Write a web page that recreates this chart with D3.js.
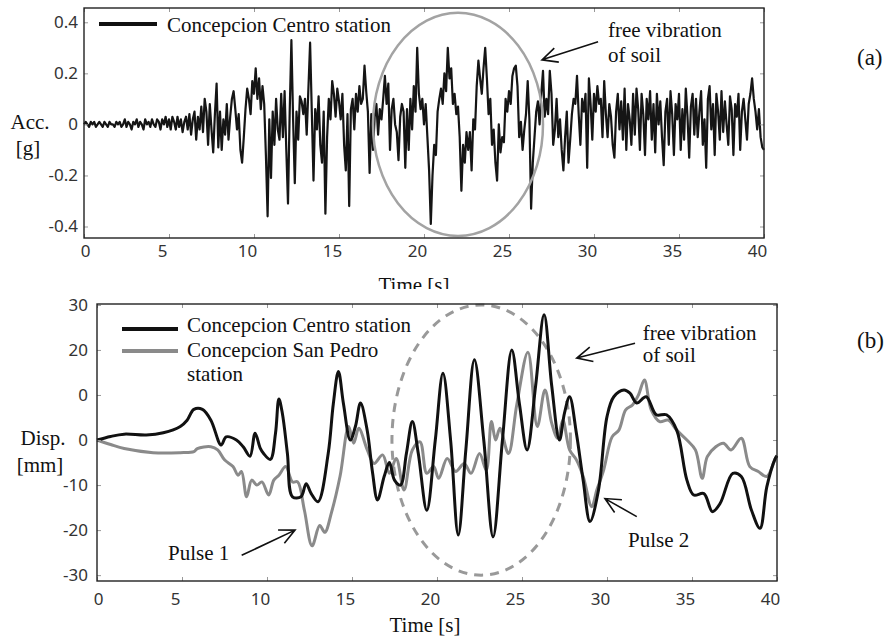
<!DOCTYPE html>
<html>
<head>
<meta charset="utf-8">
<script src="https://cdn.jsdelivr.net/npm/d3@7"></script>
<style>
body { margin: 0; background: #fff; }
svg { display: block; }
</style>
</head>
<body>
<svg width="888" height="639"></svg>
<script>
// (a) ground acceleration [g], one reading every 0.1 s from 0 to 40 s
var accStep = 0.1;
var acc = [
 0.00,0.01,0.00,-0.01,0.01,0.00,0.01,-0.01,0.00,0.01,
 0.00,-0.01,0.01,0.00,-0.01,0.01,0.00,0.00,-0.01,0.01,
 0.00,0.01,-0.01,0.00,0.02,-0.01,0.01,0.00,-0.02,0.01,
 0.00,0.02,-0.01,0.01,0.00,-0.02,0.02,0.00,0.01,-0.01,
 0.02,0.00,-0.01,0.02,0.01,-0.02,0.02,0.00,0.03,-0.01,
 0.02,-0.02,0.03,0.01,-0.02,0.03,-0.01,0.02,-0.03,0.01,
 0.03,-0.02,0.04,-0.04,0.02,0.05,-0.06,0.03,-0.02,0.07,
 -0.03,0.10,0.05,-0.08,0.08,-0.02,-0.11,0.04,0.16,-0.09,
 0.05,-0.10,0.02,-0.04,0.08,-0.06,0.03,0.10,0.13,0.06,
 -0.02,0.04,-0.10,-0.15,-0.05,0.06,0.14,0.10,0.04,0.17,
 0.12,0.22,0.10,0.18,0.06,0.15,0.08,-0.12,-0.36,0.02,
 -0.21,0.05,-0.08,0.10,-0.02,-0.06,0.12,-0.05,0.13,-0.10,
 -0.31,0.05,0.33,0.02,-0.23,0.05,-0.06,0.11,0.09,0.04,
 0.10,-0.04,0.14,0.32,0.05,-0.22,0.06,-0.02,0.11,-0.08,
 -0.15,0.05,-0.35,-0.05,0.10,0.02,0.17,0.12,0.03,0.14,
 0.09,0.02,0.12,-0.08,-0.18,0.04,-0.32,0.06,0.10,-0.02,
 0.12,0.05,0.15,0.08,0.10,0.23,0.13,0.05,-0.19,0.04,
 -0.10,0.03,0.08,-0.04,0.06,0.02,0.10,0.19,0.08,0.16,
 -0.10,0.06,0.10,0.00,-0.03,-0.14,0.03,0.08,0.05,-0.17,
 0.06,-0.10,0.10,-0.02,0.15,0.05,0.30,0.12,0.06,0.10,
 0.00,0.08,-0.05,-0.18,-0.39,-0.20,-0.08,-0.12,0.05,0.10,
 0.14,0.08,0.20,0.13,0.30,0.18,0.22,0.08,0.12,0.04,
 0.07,-0.05,-0.26,-0.08,-0.15,-0.03,-0.10,-0.03,-0.18,0.02,
 -0.02,0.15,0.25,0.18,0.12,0.22,0.30,0.18,0.04,0.10,
 -0.08,-0.02,-0.15,-0.22,0.00,-0.11,-0.05,-0.07,0.10,0.05,
 0.13,0.08,0.19,0.22,0.23,0.15,-0.05,0.01,-0.10,-0.02,
 0.04,0.17,0.02,-0.33,-0.15,-0.05,0.05,0.09,0.00,0.12,
 0.21,0.03,0.10,0.04,0.21,0.12,-0.08,-0.02,0.10,-0.05,
 0.02,-0.10,-0.18,-0.05,0.05,-0.15,-0.06,0.04,0.10,0.08,
 0.19,0.04,-0.08,0.10,0.05,0.12,-0.17,0.18,0.08,-0.06,
 0.12,0.05,0.15,0.08,0.10,-0.05,0.17,0.04,-0.05,0.08,
 0.03,-0.08,-0.13,0.05,0.12,-0.02,0.09,-0.06,0.14,-0.10,
 0.08,0.02,-0.08,0.12,-0.04,0.14,0.06,-0.10,0.12,0.04,
 -0.12,0.10,0.02,0.13,-0.06,0.08,-0.11,0.12,0.00,0.09,
 -0.05,-0.16,0.05,0.10,-0.08,0.13,0.04,-0.12,0.08,0.02,
 0.12,-0.10,0.06,-0.06,0.14,0.03,-0.13,0.07,0.12,-0.04,
 0.10,-0.05,0.05,0.13,-0.08,0.02,-0.17,0.10,0.15,-0.02,
 0.08,-0.12,0.12,0.05,-0.06,0.13,-0.03,0.09,0.00,-0.08,
 0.11,0.06,-0.12,0.08,0.03,0.12,-0.10,0.05,0.10,0.02,
 -0.06,0.08,0.12,0.18,0.10,0.05,-0.02,0.06,-0.05,-0.09,
 -0.10
];

// (b) displacement [mm], read at the turning points of each trace
var centroTime = [0,0.8,1.6,2.9,3.9,4.9,5.3,5.7,6.2,6.7,7.3,7.6,8.2,8.6,9.0,9.3,9.6,9.8,10.2,10.5,10.7,10.9,11.2,11.5,12.0,12.3,12.6,13.0,13.6,13.9,14.2,14.5,14.9,15.2,15.5,15.9,16.2,16.5,16.9,17.2,17.5,17.85,18.2,18.55,18.9,19.4,19.9,20.35,20.8,21.25,21.7,22.2,22.75,23.3,23.85,24.4,24.85,25.3,25.8,26.3,26.75,27.2,27.5,27.8,28.2,28.6,29.0,29.5,30.0,30.4,31.0,31.35,31.75,32.3,32.9,33.5,34.1,34.7,35.1,35.7,36.2,36.65,37.4,37.9,38.5,39.0,39.4,39.9,40];
var centroDisp = [0,0.8,1.3,1.1,1.6,3.0,4.4,6.8,6.8,4.4,-1.1,0.7,0.0,-1.5,-3.6,1.5,-1.8,-3.0,-4.3,1.5,9.1,6.0,-3.0,-12.6,-12.6,-9.7,-11.9,-13.7,-3,8,15.2,8,0,3,8.2,2,-7,-13.3,-8,-5,-8.9,-10,-3,4.1,-3,-15.6,0,14.8,0,-21.1,-2,17.8,0,-21.5,0,20,8,-2.2,12,27.8,12,0,6,9.6,1.5,-9,-18.1,-11.1,5.2,9.6,11.1,10.4,8.2,9.6,5.6,5.6,2.2,-8.9,-12.2,-11.9,-15.9,-14.1,-7.4,-8.1,-15.6,-19.6,-10.4,-4.1,-3.5];
var sanPedroTime = [0,0.8,1.6,3.3,4.9,5.7,5.9,6.7,7.1,7.5,8.0,8.3,8.5,8.8,9.1,9.4,9.7,10.1,10.4,10.7,11.1,11.5,11.8,12.2,12.65,13.1,13.4,13.8,14.3,14.8,15.1,15.4,15.9,16.3,16.8,17.2,17.6,18.06,18.55,19.0,19.4,19.8,20.1,20.6,21.1,21.6,22.0,22.5,22.9,23.2,23.45,23.7,24.2,24.7,25.35,25.9,26.35,26.75,27.1,27.4,27.8,28.2,28.6,29.1,29.4,29.8,30.3,30.7,31.1,31.5,31.85,32.2,32.6,33.1,33.6,34.1,34.7,35.2,35.6,35.9,36.4,36.85,37.3,37.9,38.4,38.9,39.4,39.9,40];
var sanPedroDisp = [0,-1.0,-1.9,-2.8,-2.8,-2.6,-1.9,-1.5,-2.2,-4.4,-5.9,-7.8,-7.0,-12.6,-8.9,-10,-9.3,-12.2,-8.9,-7.8,-5.9,-9.3,-9.3,-15.6,-23.5,-19,-20.5,-16,-8,3,-0.7,2.6,-2.2,-5.2,-3.3,-7.4,-4.1,-11.1,-2.2,-0.4,-7.4,-5.9,-8.5,-4.1,-7,-5.2,-7.4,-3,-6.7,4.1,0,2.6,-3,8,19.5,3,11.1,3.7,0.4,4.4,-2.2,-4.4,-8.1,-14.8,-11.1,-6.7,0.7,2.2,6.7,7.8,10,13.3,6.7,4.1,4.4,2.2,0,-2.2,-8.5,-3.7,-1.5,-0.7,-2.2,0.4,-5.9,-7,-8.1,-4.1,-3.5];

var timeTicks = [0,5,10,15,20,25,30,35,40];
var accTicks = [-0.4,-0.2,0,0.2,0.4];
var accTickLabels = ["-0.4","-0.2","0","0.2","0.4"];
var dispTicks = [30,20,10,0,-10,-20,-30];
var dispTickLabels = ["30","20","0","0","-10","-20","-30"];

var svg = d3.select("svg");
var serif = "'Liberation Serif','Times New Roman',serif";
var sans = "'Noto Sans',sans-serif";

function frame(g, x, y, yTicks, yLabels, xPad, yPad) {
  var x0 = x.range()[0], x1 = x.range()[1], y0 = y.range()[0], y1 = y.range()[1];
  g.append("g").attr("transform", "translate(0," + y0 + ")")
    .call(d3.axisBottom(x).tickValues(timeTicks).tickSize(-4).tickPadding(xPad))
    .call(function(a) {
      a.select(".domain").remove();
      a.selectAll("line").attr("stroke", "#999");
      a.selectAll("text").attr("dx", function(d) { return d === 0 ? 1 : -7; });
    });
  g.append("g").attr("transform", "translate(0," + y1 + ")")
    .call(d3.axisTop(x).tickValues(timeTicks).tickSize(-4).tickFormat(""))
    .call(function(a) { a.select(".domain").remove(); a.selectAll("line").attr("stroke", "#999"); });
  g.append("g").attr("transform", "translate(" + x0 + ",0)")
    .call(d3.axisLeft(y).tickValues(yTicks).tickSize(-4).tickPadding(yPad)
      .tickFormat(function(d, i) { return yLabels[i]; }))
    .call(function(a) { a.select(".domain").remove(); a.selectAll("line").attr("stroke", "#999"); });
  g.append("g").attr("transform", "translate(" + x1 + ",0)")
    .call(d3.axisRight(y).tickValues(yTicks).tickSize(-4).tickFormat(""))
    .call(function(a) { a.select(".domain").remove(); a.selectAll("line").attr("stroke", "#999"); });
  g.selectAll(".tick text").attr("font-family", sans).attr("font-size", 17).attr("fill", "#333");
  g.append("rect").attr("x", x0).attr("y", y1).attr("width", x1 - x0).attr("height", y0 - y1)
    .attr("fill", "none").attr("stroke", "#222").attr("stroke-width", 1.4);
}

function arrow(g, xa, ya, xb, yb) {
  var ang = Math.atan2(ya - yb, xa - xb), len = 17, spread = 0.45;
  g.append("path")
    .attr("d", "M" + xa + "," + ya + "L" + xb + "," + yb +
      "M" + (xb + len * Math.cos(ang + spread)) + "," + (yb + len * Math.sin(ang + spread)) +
      "L" + xb + "," + yb +
      "L" + (xb + len * Math.cos(ang - spread)) + "," + (yb + len * Math.sin(ang - spread)))
    .attr("fill", "none").attr("stroke", "#111").attr("stroke-width", 1.6);
}

function label(g, x, y, txt, size, anchor) {
  g.append("text").attr("x", x).attr("y", y).text(txt)
    .attr("font-family", serif).attr("font-size", size || 21)
    .attr("text-anchor", anchor || "start").attr("fill", "#111");
}

// ---------- panel (a)
var ga = svg.append("g");
var xa = d3.scaleLinear().domain([0, 40]).range([84, 764]);
var ya = d3.scaleLinear().domain([-0.445, 0.456]).range([238, 8]);

label(ga, 414, 292, "Time [s]", 21, "middle");

ga.append("path")
  .datum(acc)
  .attr("fill", "none").attr("stroke", "#151515").attr("stroke-width", 2.2)
  .attr("stroke-linejoin", "round")
  .attr("d", d3.line().x(function(d, i) { return xa(i * accStep); }).y(function(d) { return ya(d); }));

ga.append("ellipse")
  .attr("cx", xa(22.0)).attr("cy", ya(0))
  .attr("rx", xa(5) - xa(0)).attr("ry", ya(0) - ya(0.437))
  .attr("fill", "none").attr("stroke", "#a3a3a3").attr("stroke-width", 2.5);

frame(ga, xa, ya, accTicks, accTickLabels, 7, 6);

ga.append("line").attr("x1", 99).attr("x2", 157).attr("y1", 24).attr("y2", 24)
  .attr("stroke", "#111").attr("stroke-width", 4);
label(ga, 167, 32, "Concepcion Centro station");
arrow(ga, xa(30.24), ya(0.324), xa(26.94), ya(0.253));
label(ga, xa(30.82), ya(0.343), "free vibration");
label(ga, xa(30.82), ya(0.245), "of soil");
label(ga, 30, 129, "Acc.", 21, "middle");
label(ga, 28, 155, "[g]", 21, "middle");
label(ga, 857, 65, "(a)", 23);

// ---------- panel (b)
svg.append("rect").attr("x", 0).attr("y", 289).attr("width", 888).attr("height", 350).attr("fill", "#fff");
var gb = svg.append("g");
var xb = d3.scaleLinear().domain([0, 40]).range([97, 777]);
var yb = d3.scaleLinear().domain([-31.3, 30.2]).range([581, 304]);

gb.append("ellipse")
  .attr("cx", xb(22.6)).attr("cy", yb(0))
  .attr("rx", xb(5.25) - xb(0)).attr("ry", yb(0) - yb(30))
  .attr("fill", "none").attr("stroke", "#999").attr("stroke-width", 3)
  .attr("stroke-dasharray", "9,7");

var dispLine = d3.line().curve(d3.curveCatmullRom.alpha(0.5));
gb.append("path")
  .datum(sanPedroTime.map(function(t, i) { return [xb(t), yb(sanPedroDisp[i])]; }))
  .attr("fill", "none").attr("stroke", "#8a8a8a").attr("stroke-width", 3)
  .attr("stroke-linejoin", "round").attr("d", dispLine);
gb.append("path")
  .datum(centroTime.map(function(t, i) { return [xb(t), yb(centroDisp[i])]; }))
  .attr("fill", "none").attr("stroke", "#111").attr("stroke-width", 3)
  .attr("stroke-linejoin", "round").attr("d", dispLine);

frame(gb, xb, yb, dispTicks, dispTickLabels, 12, 9);

gb.append("line").attr("x1", 122).attr("x2", 178).attr("y1", 329).attr("y2", 329)
  .attr("stroke", "#111").attr("stroke-width", 4);
gb.append("line").attr("x1", 122).attr("x2", 178).attr("y1", 351).attr("y2", 351)
  .attr("stroke", "#8a8a8a").attr("stroke-width", 4);
label(gb, 187, 332, "Concepcion Centro station");
label(gb, 187, 357, "Concepcion San Pedro");
label(gb, 187, 381, "station");

arrow(gb, xb(31.65), yb(21.5), xb(28.22), yb(18.2));
label(gb, xb(32.1), yb(22.2), "free vibration");
label(gb, xb(32.1), yb(17.3), "of soil");
arrow(gb, xb(8.51), yb(-25.6), xb(11.65), yb(-20));
label(gb, xb(4.18), yb(-26.7), "Pulse 1");
arrow(gb, xb(31.75), yb(-17), xb(29.88), yb(-13));
label(gb, xb(31.24), yb(-23.8), "Pulse 2");

label(gb, 43, 445, "Disp.", 21, "middle");
label(gb, 40, 472, "[mm]", 21, "middle");
label(gb, 425, 632, "Time [s]", 21, "middle");
label(gb, 857, 348, "(b)", 23);
</script>
</body>
</html>
